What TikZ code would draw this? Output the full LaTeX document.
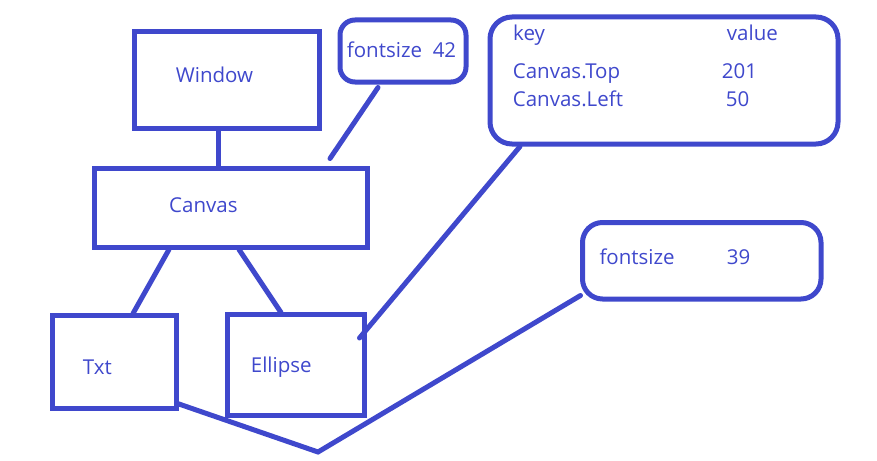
\documentclass[tikz,border=0pt]{standalone}
\usepackage{fontspec}
\setmainfont{Open Sans}
\definecolor{ink}{RGB}{63,72,204}
\begin{document}
\begin{tikzpicture}[x=1pt,y=-1pt,
  box/.style={draw=ink,line width=5pt,rectangle,inner sep=0pt},
  rbox/.style={box,rounded corners=#1},
  lbl/.style={anchor=base west,inner sep=0pt,text=ink,font=\fontsize{20.5}{24}\selectfont},
  link/.style={draw=ink,line width=5pt,line cap=round}]
\useasboundingbox (0,0) rectangle (877,460);
% boxes
\node[box,minimum width=185pt,minimum height=96pt] (window) at (226.5,80) {};
\node[box,minimum width=273pt,minimum height=79pt] (canvas) at (230.5,207.5) {};
\node[box,minimum width=124pt,minimum height=93pt] (txt) at (114,361.5) {};
\node[box,minimum width=137pt,minimum height=101pt] (ellipse) at (295.5,364.5) {};
\node[rbox=15pt,minimum width=126pt,minimum height=62pt] (fsa) at (403,51) {};
\node[rbox=22pt,minimum width=348pt,minimum height=127pt] (kv) at (664,80.5) {};
\node[rbox=20pt,minimum width=238.5pt,minimum height=76.5pt] (fsb) at (701.75,260.75) {};
% labels
\node[lbl] (tw) at (175.7,82.7) {Window};
\node[lbl] (tc) at (169,212) {Canvas};
\node[lbl] (tt) at (82.7,374) {Txt};
\node[lbl] (te) at (250.7,372) {Ellipse};
\node[lbl] (tfa) at (346.7,57.8) {fontsize\ \ 42};
\node[lbl] (tk) at (513,40.7) {key};
\node[lbl] (tv) at (726.7,40.7) {value};
\node[lbl] (tct) at (512.7,78.3) {Canvas.Top};
\node[lbl] (tn1) at (721.7,78.3) {201};
\node[lbl] (tcl) at (512.7,106.7) {Canvas.Left};
\node[lbl] (tn2) at (725.7,106.7) {50};
\node[lbl] (tfb) at (599.3,264) {fontsize};
\node[lbl] (tn3) at (726.7,264) {39};
% connectors
\coordinate (vtip) at (318,452);
\draw[link] ([xshift=-8.5pt]window.south) -- ([xshift=-12.5pt]canvas.north);
\draw[link] ([xshift=-25pt,yshift=-3pt]fsa.south) -- ([xshift=99.5pt,yshift=7pt]canvas.north);
\draw[link] ([xshift=-61.5pt]canvas.south) -- ([xshift=19pt,yshift=-1pt]txt.north);
\draw[link] ([xshift=8.5pt]canvas.south) -- ([xshift=-14.5pt,yshift=-1pt]ellipse.north);
\draw[link] ([xshift=-144pt]kv.south) -- ([xshift=-7pt,yshift=26.5pt]ellipse.east);
\draw[link] ([xshift=-1pt,yshift=7pt]txt.south east) -- (vtip) -- ([xshift=0.5pt,yshift=6pt]fsb.south west);
\end{tikzpicture}
\end{document}
